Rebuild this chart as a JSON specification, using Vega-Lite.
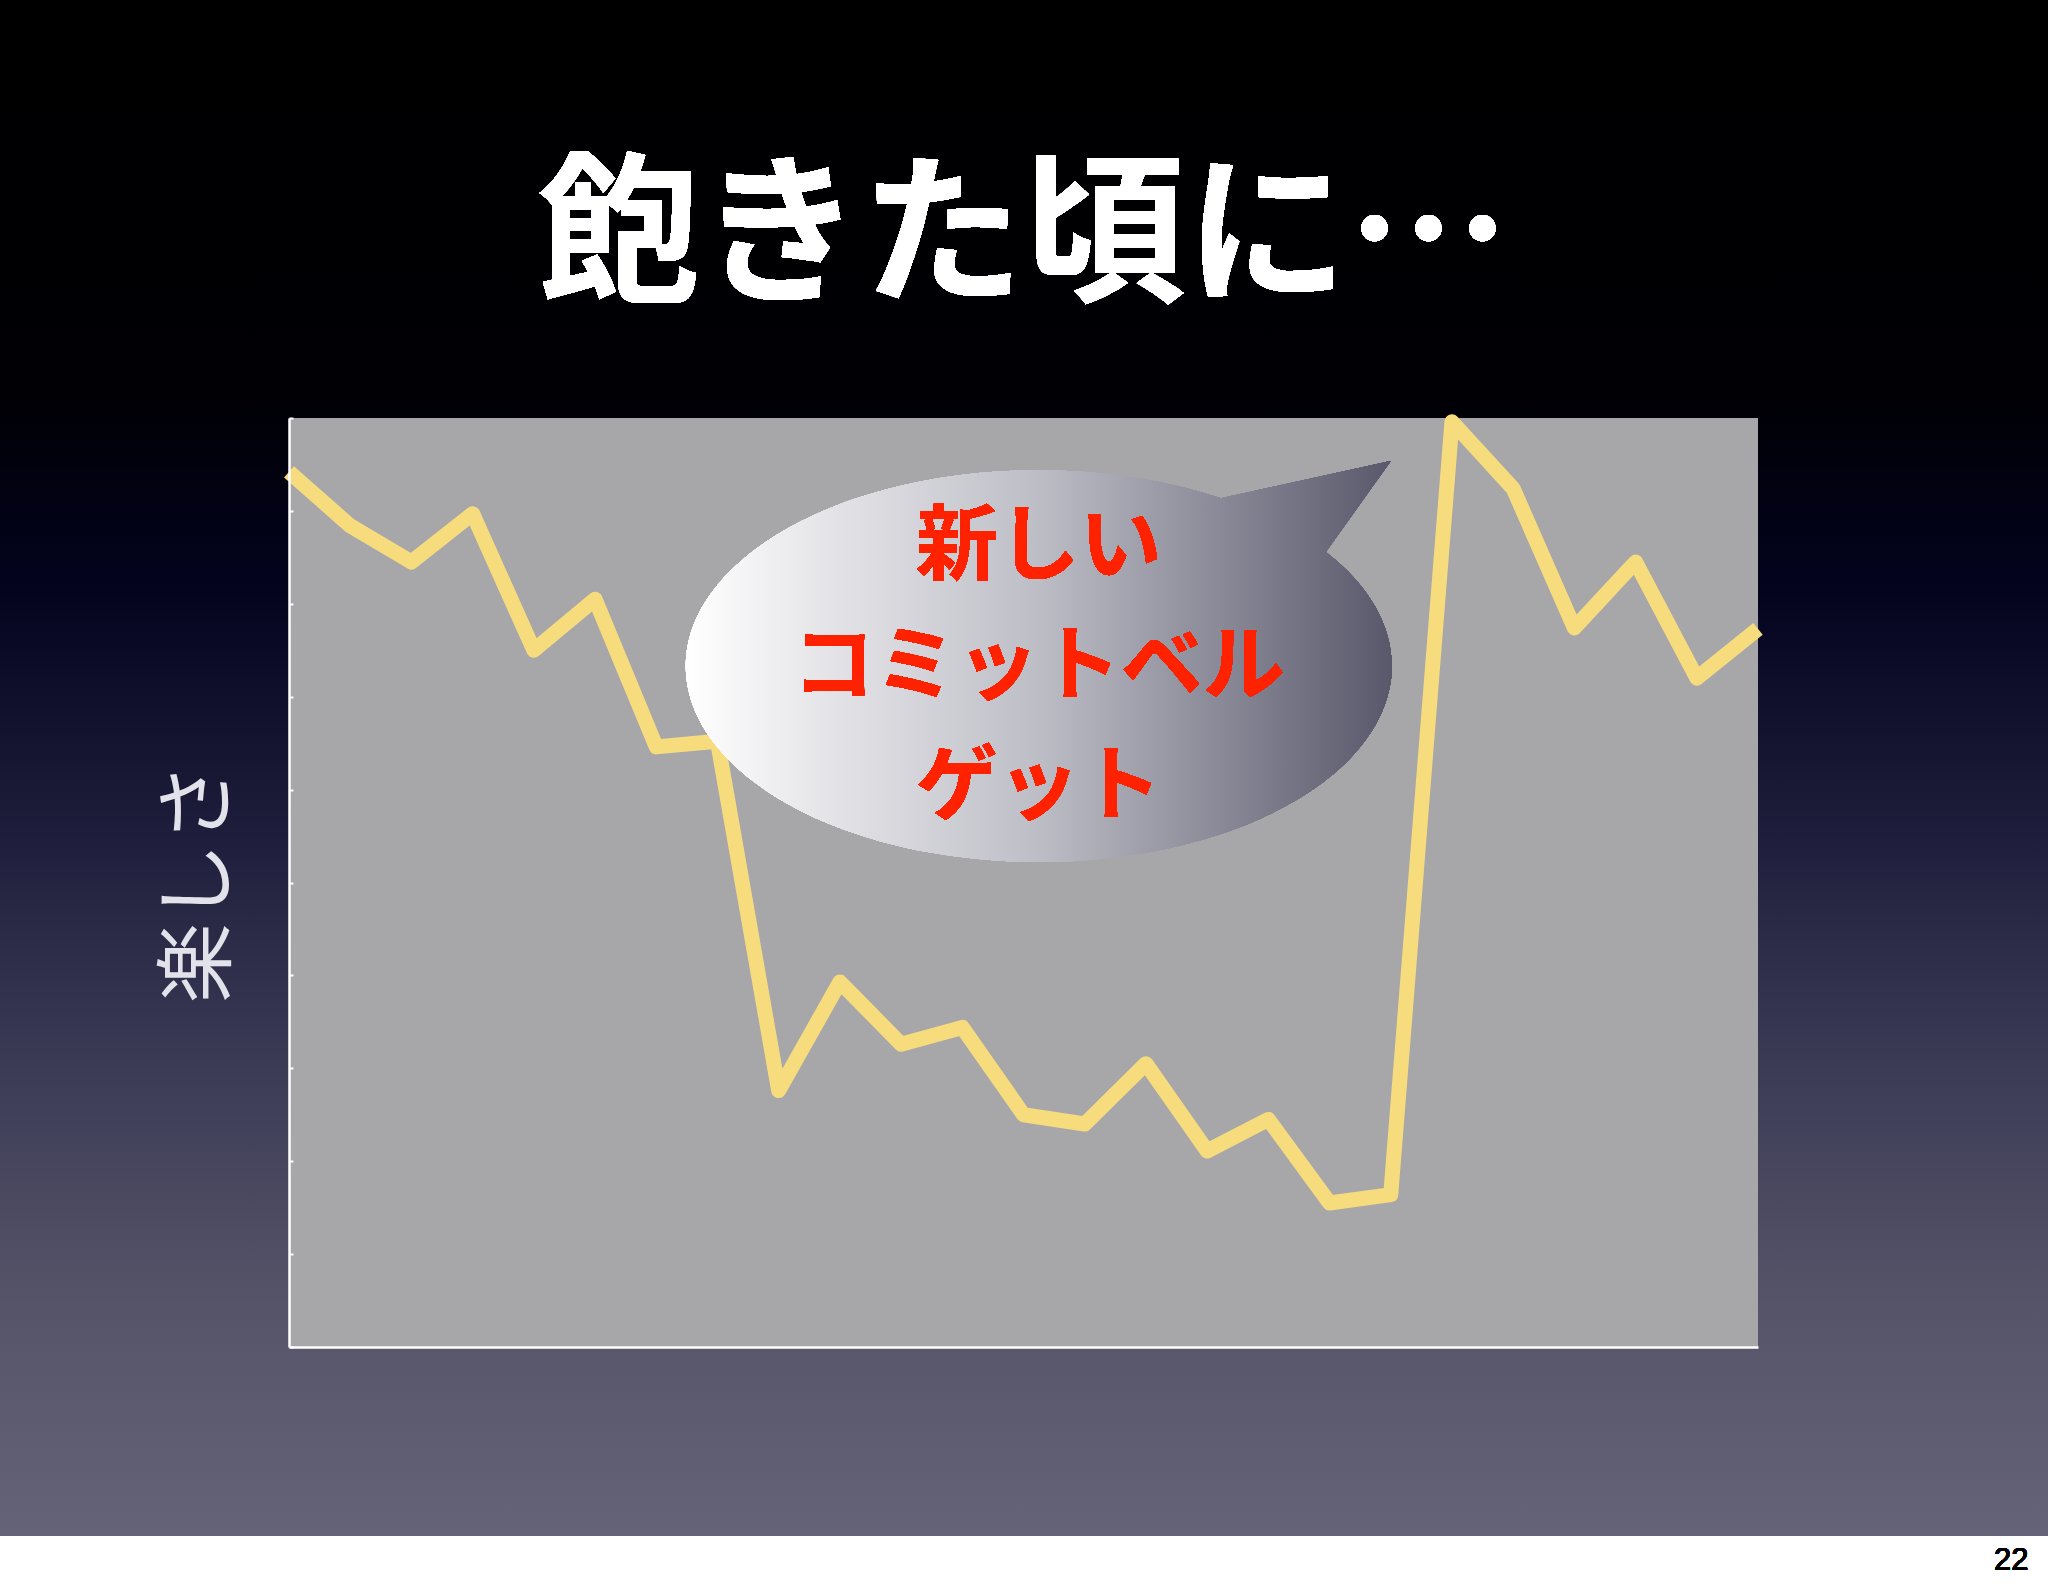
{
  "$schema": "https://vega.github.io/schema/vega-lite/v6.json",
  "width": 1469,
  "height": 929,
  "autosize": {"type": "none"},
  "padding": {"left": 289, "top": 418, "right": 290, "bottom": 240},
  "background": "#ffffff",
  "config": {
    "view": {"stroke": null}
  },
  "data": {
    "values": [
      {"t": 0, "v": 94.2},
      {"t": 1, "v": 88.4},
      {"t": 2, "v": 84.5},
      {"t": 3, "v": 89.7},
      {"t": 4, "v": 75.0},
      {"t": 5, "v": 80.5},
      {"t": 6, "v": 64.6},
      {"t": 7, "v": 65.2},
      {"t": 8, "v": 27.6},
      {"t": 9, "v": 39.3},
      {"t": 10, "v": 32.6},
      {"t": 11, "v": 34.4},
      {"t": 12, "v": 25.0},
      {"t": 13, "v": 24.0},
      {"t": 14, "v": 30.5},
      {"t": 15, "v": 21.1},
      {"t": 16, "v": 24.5},
      {"t": 17, "v": 15.5},
      {"t": 18, "v": 16.4},
      {"t": 19, "v": 99.6},
      {"t": 20, "v": 92.4},
      {"t": 21, "v": 77.4},
      {"t": 22, "v": 84.5},
      {"t": 23, "v": 72.0},
      {"t": 24, "v": 77.3}
    ]
  },
  "layer": [
    {
      "mark": {
        "type": "rect",
        "clip": false,
        "fill": {
          "gradient": "linear",
          "x1": 0, "y1": 0, "x2": 0, "y2": 1,
          "stops": [
            {"offset": 0, "color": "#000000"},
            {"offset": 0.26, "color": "#000005"},
            {"offset": 0.38, "color": "#03031e"},
            {"offset": 0.55, "color": "#1f1f3d"},
            {"offset": 0.7, "color": "#3d3c57"},
            {"offset": 0.85, "color": "#555468"},
            {"offset": 1, "color": "#646377"}
          ]
        }
      },
      "encoding": {
        "x": {"datum": -4.73, "type": "quantitative", "scale": {"domain": [0, 24], "nice": false, "zero": false},
          "axis": {"title": null, "labels": false, "ticks": false, "grid": false, "domainColor": "#ffffff", "domainWidth": 2.5, "zindex": 2}},
        "x2": {"datum": 28.8},
        "y": {"datum": 145.1, "type": "quantitative", "scale": {"domain": [0, 100], "nice": false, "zero": false},
          "axis": {
            "title": "楽しさ",
            "titleFont": "Noto Sans CJK JP",
            "titleFontSize": 80,
            "titleFontWeight": "normal",
            "titleColor": "#e2e2ea",
            "titlePadding": 48,
            "labels": false,
            "grid": false,
            "values": [0, 10, 20, 30, 40, 50, 60, 70, 80, 90, 100],
            "ticks": true,
            "tickColor": "#ffffff",
            "tickSize": -4,
            "tickWidth": 2,
            "domainColor": "#ffffff",
            "domainWidth": 2.5,
            "zindex": 2
          }},
        "y2": {"datum": -20.35}
      }
    },
    {
      "mark": {"type": "rect", "fill": "#a7a6a9"},
      "encoding": {
        "x": {"datum": 0, "type": "quantitative"},
        "x2": {"datum": 24},
        "y": {"datum": 0, "type": "quantitative"},
        "y2": {"datum": 100}
      }
    },
    {
      "mark": {"type": "line", "color": "#f7dc7e", "strokeWidth": 15, "strokeJoin": "round", "strokeCap": "butt", "clip": false},
      "encoding": {
        "x": {"field": "t", "type": "quantitative"},
        "y": {"field": "v", "type": "quantitative"}
      }
    },
    {
      "mark": {
        "type": "point",
        "filled": true,
        "opacity": 1,
        "strokeWidth": 0,
        "shape": "M-1,0 A1,0.555 0 0,1 0.516,-0.475 L0.997,-0.581 L0.813,-0.323 A1,0.555 0 1,1 -1,0 Z",
        "size": 498436,
        "fill": {
          "gradient": "linear",
          "x1": 0, "y1": 0, "x2": 1, "y2": 0,
          "stops": [
            {"offset": 0, "color": "#ffffff"},
            {"offset": 0.5, "color": "#bdbdc6"},
            {"offset": 1, "color": "#59586b"}
          ]
        }
      },
      "encoding": {
        "x": {"datum": 12.25, "type": "quantitative"},
        "y": {"datum": 73.3, "type": "quantitative"}
      }
    },
    {
      "mark": {
        "type": "text",
        "font": "Noto Sans CJK JP",
        "fontSize": 82,
        "fontWeight": "bold",
        "color": "#ff2200",
        "align": "center",
        "baseline": "middle",
        "lineHeight": 120
      },
      "encoding": {
        "x": {"datum": 12.25, "type": "quantitative"},
        "y": {"datum": 86.0, "type": "quantitative"},
        "text": {"value": ["新しい", "コミットベル", "ゲット"]}
      }
    },
    {
      "mark": {
        "type": "text",
        "font": "Noto Sans CJK JP",
        "fontSize": 162,
        "fontWeight": "bold",
        "color": "#ffffff",
        "align": "center",
        "baseline": "alphabetic",
        "clip": false
      },
      "encoding": {
        "x": {"datum": 12.0, "type": "quantitative"},
        "y": {"datum": 113.8, "type": "quantitative"},
        "text": {"value": "飽きた頃に…"}
      }
    },
    {
      "mark": {
        "type": "text",
        "font": "Liberation Sans",
        "fontSize": 31,
        "fontWeight": "normal",
        "color": "#000000",
        "align": "right",
        "baseline": "alphabetic",
        "clip": false
      },
      "encoding": {
        "x": {"datum": 28.42, "type": "quantitative"},
        "y": {"datum": -24.0, "type": "quantitative"},
        "text": {"value": "22"}
      }
    }
  ]
}
